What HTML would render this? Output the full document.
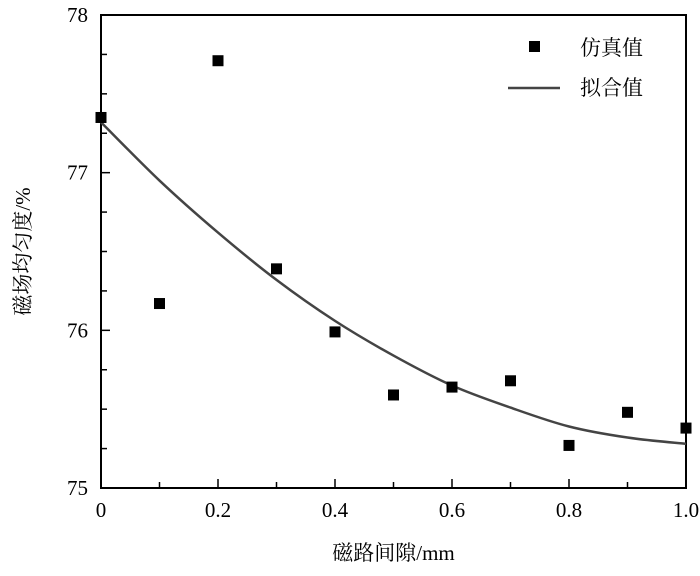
<!DOCTYPE html>
<html><head><meta charset="utf-8"><style>
body{margin:0;background:#fff}
svg{display:block;font-family:"Liberation Serif","Noto Serif CJK SC",serif}
</style></head><body>
<svg id="c" width="700" height="576" viewBox="0 0 700 576"></svg>
<script>
const xCats=[0,0.1,0.2,0.3,0.4,0.5,0.6,0.7,0.8,0.9,1.0];
const simVals=[77.35,76.17,77.71,76.39,75.99,75.59,75.64,75.68,75.27,75.48,75.38];
const fitVals=[77.32,76.95,76.62,76.32,76.06,75.84,75.65,75.51,75.39,75.32,75.28];
const xTicks=[0,0.2,0.4,0.6,0.8,1.0];
const xTickLabels=["0","0.2","0.4","0.6","0.8","1.0"];
const yTicks=[75,76,77,78];
const L=101,R=686,T=15,B=488;
const sx=v=>L+(v-0)/(1-0)*(R-L);
const sy=v=>B-(v-75)/(78-75)*(B-T);
const svg=document.getElementById('c');
const NS='http://www.w3.org/2000/svg';
function mk(t,a,txt){const e=document.createElementNS(NS,t);for(const k in a)e.setAttribute(k,a[k]);if(txt!==undefined)e.textContent=txt;svg.appendChild(e);return e;}
let e;
e=mk('rect',{x:L,y:T,width:R-L,height:B-T,fill:'none',stroke:'#000','stroke-width':2});


for(let i=0;i<=10;i++){const v=i/10;const x=sx(v);const len=(i%2==0)?9:6;
 e=mk('line',{x1:x,y1:B,x2:x,y2:B-len,stroke:'#000','stroke-width':1.5});
 
 }
xTicks.forEach((v,i)=>{e=mk('text',{x:sx(v),y:B+29,'text-anchor':'middle','font-size':21},xTickLabels[i]);
 
 });
for(let v=75;v<=78.001;v+=0.25){const y=sy(v);const major=Math.abs(v-Math.round(v))<1e-6;
 e=mk('line',{x1:L,y1:y,x2:L+(major?9:6),y2:y,stroke:'#000','stroke-width':1.5});
 
 }
yTicks.forEach(v=>{e=mk('text',{x:88,y:sy(v)+7,'text-anchor':'end','font-size':21},String(v));
 
 });
const pts=xCats.map((x,i)=>[sx(x),sy(fitVals[i])]);
let d='M'+pts[0][0]+','+pts[0][1];
for(let i=0;i<pts.length-1;i++){const p0=pts[Math.max(0,i-1)],p1=pts[i],p2=pts[i+1],p3=pts[Math.min(pts.length-1,i+2)];
 d+=` C${p1[0]+(p2[0]-p0[0])/6},${p1[1]+(p2[1]-p0[1])/6} ${p2[0]-(p3[0]-p1[0])/6},${p2[1]-(p3[1]-p1[1])/6} ${p2[0]},${p2[1]}`;}
e=mk('path',{d:d,fill:'none',stroke:'#444','stroke-width':2.5});


xCats.forEach((x,i)=>{e=mk('rect',{x:sx(x)-5.5,y:sy(simVals[i])-5.5,width:11,height:11,fill:'#000'});
 
 });
e=mk('rect',{x:529,y:41,width:11,height:11,fill:'#000'});


e=mk('text',{x:580,y:55,'font-size':21},'仿真值');


e=mk('line',{x1:508,y1:88,x2:560,y2:88,stroke:'#444','stroke-width':2.5});


e=mk('text',{x:580,y:95,'font-size':21},'拟合值');


e=mk('text',{x:(L+R)/2,y:560,'text-anchor':'middle','font-size':21},'磁路间隙/mm');


e=mk('text',{x:0,y:0,'text-anchor':'middle','font-size':21,transform:`translate(30,${(T+B)/2}) rotate(-90)`},'磁场均匀度/%');


</script>
</body></html>
